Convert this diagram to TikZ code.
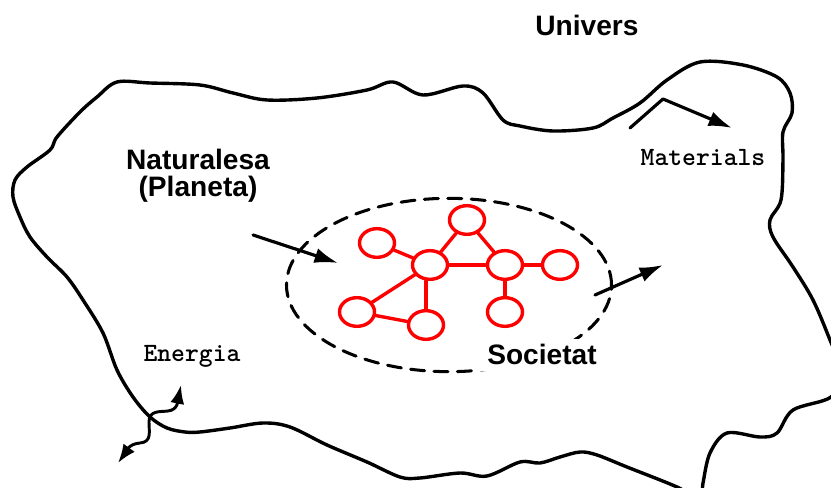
\documentclass[tikz,border=0pt]{standalone}
\usepackage{fontspec}
\newfontfamily\labelfont{Liberation Sans}
\usetikzlibrary{arrows.meta, shapes.geometric, positioning}

\begin{document}
\begin{tikzpicture}[x=0.03cm, y=-0.03cm, line join=round, line cap=round,
    cell/.style={ellipse, draw=red, line width=2.9pt, minimum width=1.05cm, minimum height=0.86cm, inner sep=0pt},
    link/.style={red, line width=2.9pt},
    flow/.style={line width=2.7pt, -{Latex[length=20pt, width=13pt]}},
    title/.style={font=\labelfont\bfseries\fontsize{24}{23}\selectfont, inner sep=0pt, align=center},
    tag/.style={font=\ttfamily\bfseries\fontsize{22.5}{24}\selectfont, inner sep=0pt}]
                \clip (0,0) rectangle (831,488);
                % univers
                \draw[line width=2.9pt] plot[smooth cycle, tension=0.55] coordinates {
                (117,82) (150,83) (200,85) (233,93) (267,100) (317,98) (367,90) (393,82)
                (423,95) (463,86) (483,93) (503,120) (520,126) (553,131) (593,128) (613,118)
                (640,103) (667,80) (700,62) (743,65) (777,77) (790,93) (792,113) (783,132)
                (783,160) (781,200) (770,220) (773,237) (793,267) (813,300) (830,340) (842,372)
                (831,397) (793,410) (777,433) (760,437) (727,433) (710,453) (703,483) (700,500)
                (677,487) (627,467) (597,455) (580,452) (560,457) (540,463) (520,462) (487,476)
                (460,473) (420,478) (400,477) (367,462) (327,445) (290,427) (263,423) (230,428)
                (200,432) (185,432) (167,428) (150,417) (133,397) (117,370) (103,333) (83,300)
                (67,277) (47,257) (30,237) (20,217) (13,197) (15,180) (27,167) (50,150)
                (57,137) (80,112) (97,97)};
                \node[title] (univ) at (587,25) {Univers};
                \node[title] (nat) at (198,176) {Naturalesa\\(Planeta)};
                \node[tag, anchor=base] (mat) at (703,166) {Materials};
                \node[tag, anchor=base] (ener) at (192,362) {Energia};
                % societat
                \node[ellipse, draw, dashed, dash pattern=on 12pt off 8pt, line width=2.6pt,
                      minimum width=9.75cm, minimum height=5.2cm, inner sep=0pt] (soc) at (449,285) {};
                \node[title, anchor=base, fill=white, inner xsep=9pt, inner ysep=5pt] (socl) at (542,365) {Societat};
                \node[cell] (c_top) at (467,220) {};
                \node[cell] (c_left) at (377,243) {};
                \node[cell] (c_hub) at (430,265) {};
                \node[cell] (c_mid) at (505,265) {};
                \node[cell] (c_far) at (560,265) {};
                \node[cell] (c_sub) at (505,312) {};
                \node[cell] (c_low) at (357,312) {};
                \node[cell] (c_bot) at (426,325) {};
                \path[link]
                (c_top) edge (c_hub)
                (c_top) edge (c_mid)
                (c_left) edge (c_hub)
                (c_hub) edge (c_mid)
                (c_mid) edge (c_far)
                (c_mid) edge (c_sub)
                (c_hub) edge (c_low)
                (c_hub.south -| c_bot) edge (c_bot)
                (c_low) edge (c_bot);
                % fluxos
                \coordinate (inA) at (253,235);
                \coordinate (inB) at (338,263);
                \coordinate (outA) at (595,295);
                \coordinate (outB) at (663,265);
                \coordinate (matA) at (630,128);
                \coordinate (matB) at (663,99);
                \coordinate (matC) at (732,128);
                \coordinate (enLow) at (118,463);
                \coordinate (enUp) at (181,385);
                \draw[flow] (inA) -- (inB);
                \draw[flow] (outA) -- (outB);
                \draw[flow] (matA) -- (matB) -- (matC);
                \draw[line width=2.5pt, {Latex[length=16pt, width=12pt]}-{Latex[length=16pt, width=12pt]}]
                (enLow) .. controls (126,452) and (128,444) .. (140,443)
                .. controls (152,442) and (149,432) .. (149,422)
                .. controls (149,410) and (160,412) .. (168,411)
                .. controls (178,410) and (178,400) .. (enUp);
\end{tikzpicture}
\end{document}
